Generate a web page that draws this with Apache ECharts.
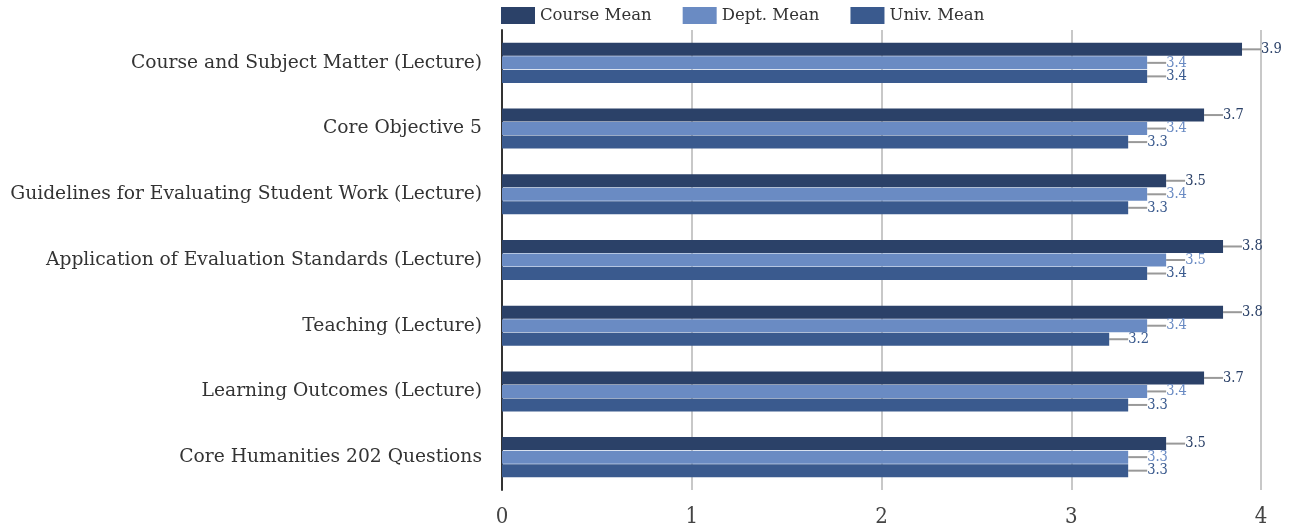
<!DOCTYPE html>
<html><head><meta charset="utf-8">
<script src="https://cdn.jsdelivr.net/npm/echarts@6/dist/echarts.min.js"></script>
<style>html,body{margin:0;padding:0;background:#fff}#c{width:1293px;height:529px}</style>
</head><body><div id="c"></div>
<script>
const categories = [
  'Course and Subject Matter (Lecture)',
  'Core Objective 5',
  'Guidelines for Evaluating Student Work (Lecture)',
  'Application of Evaluation Standards (Lecture)',
  'Teaching (Lecture)',
  'Learning Outcomes (Lecture)',
  'Core Humanities 202 Questions'
];
const courseMean = [3.9, 3.7, 3.5, 3.8, 3.8, 3.7, 3.5];
const deptMean   = [3.4, 3.4, 3.4, 3.5, 3.4, 3.4, 3.3];
const univMean   = [3.4, 3.3, 3.3, 3.4, 3.2, 3.3, 3.3];
const seriesNames = ['Course Mean', 'Dept. Mean', 'Univ. Mean'];
const xTicks = [0, 1, 2, 3, 4];

const colors = ['#2b4168', '#6a8bc3', '#3a5a8e'];
const font = 'DejaVu Serif';

function mk(name, data, color) {
  return {
    name, type: 'bar', data,
    barWidth: 13, barGap: '4%',
    itemStyle: { color },
    label: {
      show: true, position: 'right', distance: 2,
      color, fontFamily: 'DejaVu Serif Condensed', fontSize: 14.5,
      formatter: p => p.value.toFixed(1)
    },
    labelLayout: { dx: 17 },
    labelLine: { show: true, lineStyle: { color: '#999', width: 2 } }
  };
}

const chart = echarts.init(document.getElementById('c'));
chart.setOption({
  animation: false,
  color: colors,
  legend: {
    top: 7, left: 501, padding: 0, itemWidth: 34, itemHeight: 17, itemGap: 31,
    icon: 'rect',
    textStyle: { fontFamily: font, fontSize: 16.5, color: '#333' },
    data: seriesNames
  },
  grid: { left: 502, right: 32, top: 30, bottom: 39, containLabel: false },
  xAxis: {
    type: 'value', min: xTicks[0], max: xTicks[xTicks.length - 1], interval: 1,
    axisLine: { show: false }, axisTick: { show: false },
    splitLine: { lineStyle: { color: '#c8c8c8', width: 2 } },
    axisLabel: { fontFamily: 'DejaVu Serif Condensed', fontSize: 22, color: '#444', margin: 16 }
  },
  yAxis: {
    type: 'category', data: categories, inverse: true,
    axisLine: { show: true, lineStyle: { color: '#333', width: 2 } },
    axisTick: { show: false },
    axisLabel: { fontFamily: font, fontSize: 18.7, color: '#333', margin: 20 }
  },
  series: [
    mk(seriesNames[0], courseMean, colors[0]),
    mk(seriesNames[1], deptMean, colors[1]),
    mk(seriesNames[2], univMean, colors[2])
  ]
});
</script></body></html>
